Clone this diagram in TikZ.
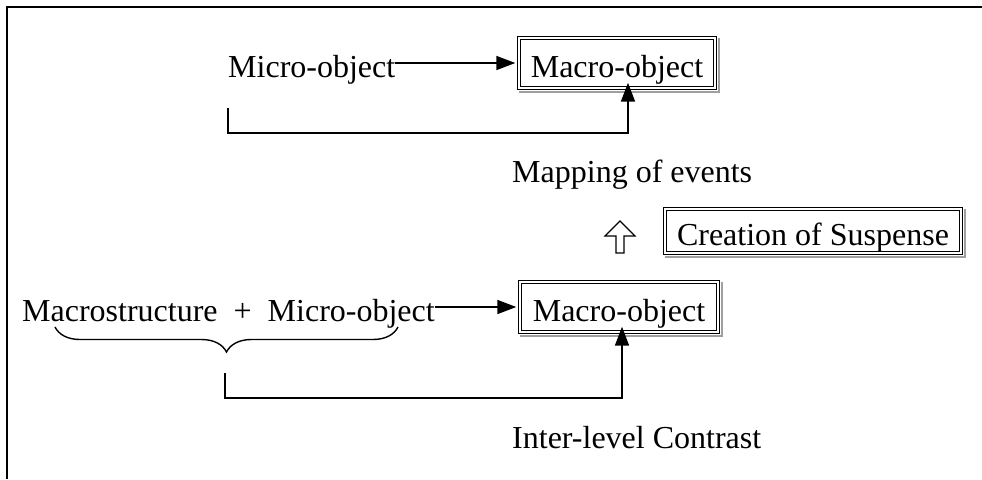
\documentclass[tikz,border=0pt]{standalone}
\usepackage{fontspec}
\setmainfont{Liberation Serif}
\usetikzlibrary{arrows.meta,decorations.pathreplacing}
\tikzset{
  lbl/.style={inner sep=0pt, font=\fontsize{32}{36}\selectfont},
  dbox/.style={lbl, draw=black, line width=1.4pt, double=white, double distance=1.6pt,
    fill=white, text height=28pt, text depth=0pt},
  shade/.style={draw=gray!75, line width=2.2pt},
  arr/.style={line width=1.7pt, -{Triangle[length=19pt,width=14pt]}},
}
\newcommand{\boxshadow}[1]{%
  \draw[shade] ([shift={(3.5,1)}]#1.north east) -- ([shift={(3.5,3.5)}]#1.south east)
    -- ([shift={(1,3.5)}]#1.south west);}
\begin{document}
\begin{tikzpicture}[x=1pt,y=-1pt]
\useasboundingbox (0,0) rectangle (982,479);
% frame edges
\draw[line width=2.6pt] (7,479) -- (7,7) -- (982,7);

% upper level
\node[dbox, minimum width=196pt, minimum height=50pt] (topbox) at (617,63) {Macro-object};
\boxshadow{topbox}
\node[lbl, anchor=base west] (micro) at (228,77) {Micro-object};
\draw[arr] (micro.east |- topbox.west) -- ([xshift=-3pt]topbox.west);
\coordinate (b1) at (228,108);
\coordinate (b2) at (628,133);
\draw[arr] (b1) |- (b2) -- ([yshift=6pt]b2 |- topbox.south);
\node[lbl, anchor=base west] (mapping) at (512,182) {Mapping of events};

% suspense
\node[dbox, minimum width=296pt, minimum height=44pt] (susp) at (813,231) {Creation of Suspense};
\boxshadow{susp}
\coordinate (ha) at (620,253);
\draw[line width=1.1pt, line join=miter]
  ([xshift=-4pt]ha) -- ++(0,-17) -- ++(-11,0) -- (620,221) -- (635,236) -- ++(-11,0) -- ([xshift=4pt]ha) -- cycle;

% lower level
\node[dbox, minimum width=198pt, minimum height=50pt] (botbox) at (619,307) {Macro-object};
\boxshadow{botbox}
\node[lbl, anchor=base west] (macro) at (22,321) {Macrostructure\hspace{0.5em}+\hspace{0.5em}Micro-object};
\draw[arr] (macro.east |- botbox.west) -- ([xshift=-3pt]botbox.west);
\coordinate (br1) at (55,327);
\coordinate (br2) at (398,327);
\draw[line width=1.4pt, decorate, decoration={brace, mirror, amplitude=25pt}] (br1) -- (br2);
\coordinate (c1) at (225,373);
\coordinate (c2) at (622,398);
\draw[arr] (c1) |- (c2) -- ([yshift=6pt]c2 |- botbox.south);
\node[lbl, anchor=base west] (contrast) at (512,448) {Inter-level Contrast};
\end{tikzpicture}
\end{document}
